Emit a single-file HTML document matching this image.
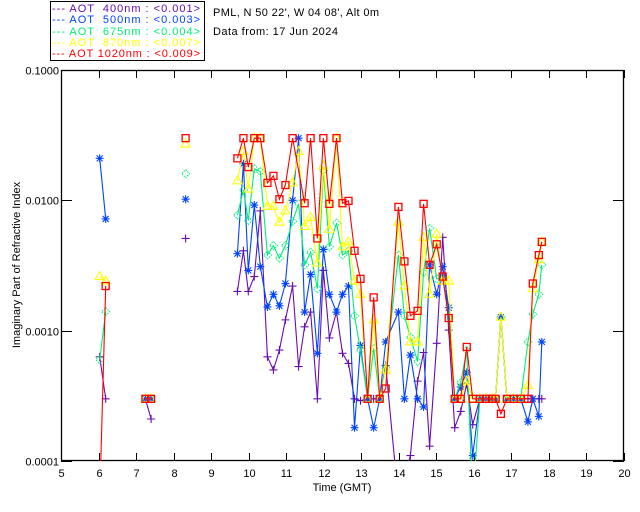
<!DOCTYPE html>
<html><head><meta charset="utf-8">
<style>
html,body{margin:0;padding:0;background:#fff;}
svg{display:block;font-family:"Liberation Sans",sans-serif;}
</style></head>
<body>
<svg id="chart" width="640" height="512" viewBox="0 0 640 512">
<defs><clipPath id="plotclip"><rect x="61" y="70" width="563" height="391"/></clipPath></defs>
<g>
<rect x="50.5" y="1.5" width="154" height="59" fill="none" stroke="#000" stroke-width="1"/>
<text x="52" y="12" font-size="11" fill="#6a0dad" xml:space="preserve" textLength="148" lengthAdjust="spacing">--- AOT  400nm : &lt;0.001&gt;</text>
<text x="52" y="23" font-size="11" fill="#0044ff" xml:space="preserve" textLength="148" lengthAdjust="spacing">--- AOT  500nm : &lt;0.003&gt;</text>
<text x="52" y="35" font-size="11" fill="#00ee77" xml:space="preserve" textLength="148" lengthAdjust="spacing">--- AOT  675nm : &lt;0.004&gt;</text>
<text x="52" y="46" font-size="11" fill="#ffff00" xml:space="preserve" textLength="148" lengthAdjust="spacing">--- AOT  870nm : &lt;0.007&gt;</text>
<text x="52" y="57" font-size="11" fill="#ff0000" xml:space="preserve" textLength="148" lengthAdjust="spacing">--- AOT 1020nm : &lt;0.009&gt;</text>
</g>
<text x="213" y="16" font-size="11" fill="#000" textLength="166" lengthAdjust="spacing">PML, N 50 22', W 04 08', Alt 0m</text>
<text x="213" y="35" font-size="11" fill="#000" textLength="125" lengthAdjust="spacing">Data from: 17 Jun 2024</text>
<g id="axes"></g>
<g id="series" clip-path="url(#plotclip)"></g>
<text x="342" y="491" font-size="11" text-anchor="middle" fill="#000">Time (GMT)</text>
<text x="20" y="265" font-size="11" text-anchor="middle" fill="#000" transform="rotate(-90 20 265)">Imaginary Part of Refractive Index</text>
</svg>
<script>
const xTicks = [5,6,7,8,9,10,11,12,13,14,15,16,17,18,19,20];
const yTicks = [0.1,0.01,0.001,0.0001];
const yTickLabels = ["0.1000","0.0100","0.0010","0.0001"];

const segTimes = [
  [6.03,6.19],
  [7.25,7.40],
  [8.32],
  [9.70,9.86,9.99,10.15,10.31,10.50,10.66,10.82,10.98,11.17,11.33,11.49,11.65,11.83,11.99,12.15,12.34,12.50,12.66,12.82,12.98,13.17,13.33,13.49,13.65,13.99,14.15,14.31,14.50,14.66,14.82,15.01,15.17,15.33,15.49,15.65,15.81,15.97,16.16,16.32,16.48,16.58,16.72,16.88,17.06,17.25,17.44,17.57,17.73,17.81]
];
const purpleVals = [
  [0.00063,0.0003],[0.0003,0.00021],[0.0051],
  [0.0020,0.0041,0.0020,0.0026,0.0083,0.00063,0.0005,0.00071,0.00121,0.0022,0.00053,0.00107,0.00139,0.0003,0.0029,0.00088,0.00139,0.00067,0.00056,0.0003,0.00029,0.0003,0.0003,0.0003,0.00054,0.00005,null,0.00011,0.00041,0.00068,0.00013,0.0008,0.0052,0.00101,0.00018,0.00024,0.00039,0.00019,0.0003,0.0003,0.0003,0.0003,0.00127,0.0003,0.0003,0.0003,0.0003,0.0003,0.0003,0.0003]
];
const blueVals = [
  [0.021,0.0072],[0.0003,0.0003],[0.0102],
  [0.0039,0.0191,0.0029,0.0092,0.0031,0.00152,0.0019,0.00155,0.0023,0.0100,0.030,0.00139,0.0027,0.00067,0.0042,0.0019,0.00139,0.0019,0.0022,0.00018,0.00077,0.0003,0.00018,0.0003,0.00082,0.00139,0.0003,0.00065,0.0003,0.00026,0.0032,0.0019,0.0031,0.0015,0.0003,0.00037,0.00048,0.00011,0.0003,0.0003,0.0003,0.0003,0.00127,0.0003,0.0003,0.0003,0.0002,0.0003,0.00022,0.00082]
];
const greenVals = [
  [0.0006,0.0014],[0.0003,0.0003],[0.016],
  [0.0077,0.0120,0.0070,0.0175,0.0166,0.0038,0.0045,0.0036,0.0045,0.0069,0.0094,0.0032,0.0040,0.0021,0.0169,0.0044,0.0067,0.0038,0.0041,0.0013,0.00071,0.0003,0.00073,0.0003,0.00052,0.0038,0.0013,0.00089,0.00058,0.0028,0.0061,0.0025,0.0025,0.00127,0.0003,0.0004,0.00071,0.00005,0.0003,0.0003,0.0003,0.0003,0.00127,0.0003,0.0003,0.0003,0.00082,0.00134,0.0019,0.0032]
];
const yellowVals = [
  [0.0026,0.0024],[0.0003,0.0003],[0.027],
  [0.0141,0.0237,0.0122,0.030,0.030,0.0090,0.0090,0.0068,0.0083,0.0136,0.0237,0.0063,0.0074,0.0033,0.0184,0.0060,0.030,0.0044,0.0048,0.0024,0.0019,0.0003,0.00121,0.0003,0.0005,0.0068,0.0022,0.00082,0.00082,0.0052,0.0019,0.0055,0.0024,0.0024,0.0003,0.0003,0.00041,0.0003,0.0003,0.0003,0.0003,0.0003,0.00127,0.0003,0.0003,0.0003,0.00038,0.0021,0.0035,0.0048]
];
const redVals = [
  [0.00005,0.0022],[0.0003,0.0003],[0.030],
  [0.021,0.030,0.018,0.030,0.030,0.0136,0.0154,0.0102,0.0131,0.030,null,0.0095,0.030,0.0051,0.030,0.0094,0.030,0.0095,0.0099,0.0041,0.0025,0.0003,0.0018,0.0003,0.00036,0.0089,0.0034,0.0013,0.00142,0.0094,0.0032,0.0046,0.0026,0.00125,0.0003,0.0003,0.00075,0.0003,0.0003,0.0003,0.0003,0.0003,0.00023,0.0003,0.0003,0.0003,0.0003,0.0023,0.0038,0.0048]
];

const L=61,R=624,T=70,B=461;
function xScale(t){return L+(t-5)/15*(R-L);}
function yScale(v){return T+(-1-Math.log10(v))/3*(B-T);}
const NS="http://www.w3.org/2000/svg";
function mk(tag,attrs,parent){const e=document.createElementNS(NS,tag);for(const k in attrs)e.setAttribute(k,attrs[k]);parent.appendChild(e);return e;}

const axes=document.getElementById('axes');
const frame=mk('rect',{x:L+0.5,y:T+0.5,width:R-L-1,height:B-T-1,fill:'none',stroke:'#000','stroke-width':1.3},axes);


xTicks.forEach(t=>{
  const x=Math.round(xScale(t))+0.5;
  const tk=mk('path',{d:`M${x},${B}v-8M${x},${T}v8`,stroke:'#000','stroke-width':1},axes);
  
  
  const lb=mk('text',{x:x,y:B+16,'font-size':11,'text-anchor':'middle',fill:'#000'},axes);
  lb.textContent=t;
  
  
});
yTicks.forEach((v,i)=>{
  const y=Math.round(yScale(v))+0.5;
  const tk=mk('path',{d:`M${L},${y}h11M${R},${y}h-11`,stroke:'#000','stroke-width':1},axes);
  
  
  const lb=mk('text',{x:L-2,y:y+4,'font-size':11,'text-anchor':'end',fill:'#000'},axes);
  lb.textContent=yTickLabels[i];
  
  
});

const seriesG=document.getElementById('series');
function marker(kind,x,y,color,g){
  let e;
  if(kind==='plus'){e=mk('path',{d:`M${x-4},${y}h8M${x},${y-4}v8`,stroke:color,'stroke-width':1.1,fill:'none'},g);}
  else if(kind==='star'){e=mk('path',{d:`M${x-4},${y}h8M${x},${y-4}v8M${x-3},${y-3}l6,6M${x-3},${y+3}l6,-6`,stroke:color,'stroke-width':1.1,fill:'none'},g);}
  else if(kind==='diamond'){e=mk('path',{d:`M${x},${y-4}l4,4l-4,4l-4,-4z`,stroke:color,'stroke-width':1,fill:'none','stroke-dasharray':'1.5,1'},g);}
  else if(kind==='tri'){e=mk('path',{d:`M${x},${y-5}l4.5,8h-9z`,stroke:color,'stroke-width':1.1,fill:'none'},g);}
  else {e=mk('rect',{x:x-3.5,y:y-3.5,width:7,height:7,stroke:color,'stroke-width':1.3,fill:'none'},g);}
  return e;
}
const seriesDefs=[
  {name:'series-400nm',vals:purpleVals,color:'#6a0dad',m:'plus'},
  {name:'series-500nm',vals:blueVals,color:'#0044ff',m:'star'},
  {name:'series-675nm',vals:greenVals,color:'#00ee77',m:'diamond'},
  {name:'series-870nm',vals:yellowVals,color:'#ffff00',m:'tri'},
  {name:'series-1020nm',vals:redVals,color:'#ff0000',m:'square'}
];
seriesDefs.forEach(s=>{
  const g=mk('g',{},seriesG);
  
  
  segTimes.forEach((times,si)=>{
    const pts=[];
    times.forEach((t,i)=>{const v=s.vals[si][i];if(v!=null)pts.push([xScale(t),yScale(v)]);});
    if(pts.length>1){
      const ln=mk('polyline',{points:pts.map(p=>p[0].toFixed(1)+','+p[1].toFixed(1)).join(' '),fill:'none',stroke:s.color,'stroke-width':1.1},g);
      
      
    }
    pts.forEach(p=>{
      const e=marker(s.m,p[0],p[1],s.color,g);
      
      
    });
  });
});
</script>
</body></html>
